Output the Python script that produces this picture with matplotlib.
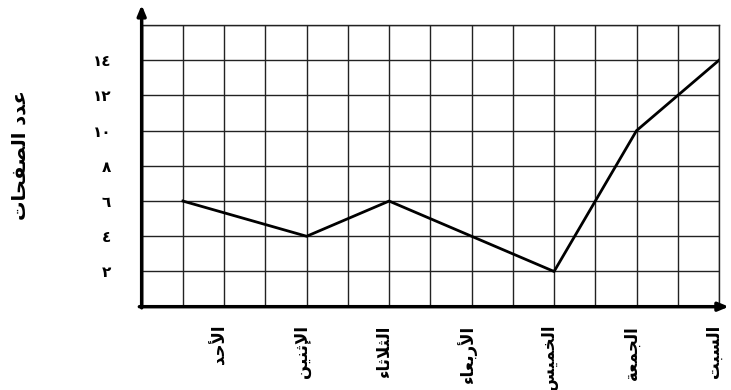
#!/usr/bin/env python3
"""Line chart: pages read per day of the week (Arabic labels)."""

import matplotlib

matplotlib.use("Agg")
import matplotlib.pyplot as plt
from matplotlib.transforms import ScaledTranslation

# data
days = ["الأحد", "الإثنين", "الثلاثاء", "الأربعاء", "الخميس", "الجمعة", "السبت"]
day_x = [1, 4, 6, 8, 10, 12, 14]          # where each day's point sits on the grid
pages = [6, 4, 6, 4, 2, 10, 14]
label_x = [2, 4, 6, 8, 10, 12, 14]        # where the day names are written
y_ticks = [2, 4, 6, 8, 10, 12, 14]
y_title = "عدد الصفحات"

# --- minimal Arabic shaping (matplotlib has no bidi / joining support) ---
_BASE = {
    "ء": 0xFE80, "آ": 0xFE81, "أ": 0xFE83, "ؤ": 0xFE85, "إ": 0xFE87, "ئ": 0xFE89,
    "ا": 0xFE8D, "ب": 0xFE8F, "ة": 0xFE93, "ت": 0xFE95, "ث": 0xFE99, "ج": 0xFE9D,
    "ح": 0xFEA1, "خ": 0xFEA5, "د": 0xFEA9, "ذ": 0xFEAB, "ر": 0xFEAD, "ز": 0xFEAF,
    "س": 0xFEB1, "ش": 0xFEB5, "ص": 0xFEB9, "ض": 0xFEBD, "ط": 0xFEC1, "ظ": 0xFEC5,
    "ع": 0xFEC9, "غ": 0xFECD, "ف": 0xFED1, "ق": 0xFED5, "ك": 0xFED9, "ل": 0xFEDD,
    "م": 0xFEE1, "ن": 0xFEE5, "ه": 0xFEE9, "و": 0xFEED, "ى": 0xFEEF, "ي": 0xFEF1,
}
_RIGHT = set("آأؤإاةدذرزوى")
_DUAL = set("ئبتثجحخسشصضطظعغفقكلمنهي")
_LAM_ALEF = {"آ": 0xFEF5, "أ": 0xFEF7, "إ": 0xFEF9, "ا": 0xFEFB}


def shape_ar(text: str) -> str:
    units = []  # (base codepoint or char, joining type)
    i = 0
    while i < len(text):
        c = text[i]
        if c == "ل" and i + 1 < len(text) and text[i + 1] in _LAM_ALEF:
            units.append((_LAM_ALEF[text[i + 1]], "R"))
            i += 2
            continue
        if c in _DUAL:
            units.append((_BASE[c], "D"))
        elif c in _RIGHT:
            units.append((_BASE[c], "R"))
        elif c in _BASE:
            units.append((_BASE[c], "U"))
        else:
            units.append((c, "U"))
        i += 1

    out = []
    for k, (base, jt) in enumerate(units):
        if isinstance(base, str):
            out.append(base)
            continue
        prev = k > 0 and units[k - 1][1] == "D" and jt in "DR"
        nxt = jt == "D" and k + 1 < len(units) and units[k + 1][1] in "DR"
        out.append(chr(base + (1 if prev else 0) + (2 if nxt else 0)))
    return "".join(reversed(out))


def ar_digits(n: int) -> str:
    return "".join(chr(0x0660 + int(d)) for d in str(n))


fig = plt.figure(figsize=(7.31, 3.90), dpi=100)
ax = fig.add_axes([0.1938, 0.2136, 0.7898, 0.7223])

ax.plot(day_x, pages, color="black", lw=2, solid_joinstyle="miter", zorder=3)

ax.set_xlim(0, 14)
ax.set_ylim(0, 16)

# grid: one cell per x unit, one row per 2 pages
ax.set_xticks(range(0, 15), minor=True)
ax.set_yticks(range(0, 17, 2), minor=True)
ax.grid(True, which="both", color="#222222", lw=1)
ax.tick_params(which="minor", length=0)

ax.set_xticks(label_x)
ax.set_xticklabels([shape_ar(d) for d in days], rotation=90,
                   fontsize=12, fontweight="bold")
ax.set_yticks(y_ticks)
ax.set_yticklabels([ar_digits(v) for v in y_ticks], fontsize=11, fontweight="bold")
ax.tick_params(which="major", length=0)
ax.tick_params(axis="x", pad=13)
ax.tick_params(axis="y", pad=22)

shift = ScaledTranslation(-5 / 100, 0, fig.dpi_scale_trans)
for lbl in ax.get_xticklabels():
    lbl.set_transform(lbl.get_transform() + shift)

for side in ("top", "right"):
    ax.spines[side].set_color("#222222")
    ax.spines[side].set_linewidth(1)
ax.spines["left"].set_visible(False)
ax.spines["bottom"].set_visible(False)

# axis arrows
arrow = dict(arrowstyle="-|>,head_length=0.6,head_width=0.25", lw=2.5,
             color="black", shrinkA=0, shrinkB=0)
ax.annotate("", xy=(0, 1.071), xytext=(0, -0.004), xycoords="axes fraction",
            arrowprops=arrow, annotation_clip=False)
ax.annotate("", xy=(1.017, 0), xytext=(-0.004, 0), xycoords="axes fraction",
            arrowprops=arrow, annotation_clip=False)

fig.text(20 / 731, 1 - 155 / 390, shape_ar(y_title), rotation=90,
         ha="center", va="center", fontsize=14, fontweight="bold")

fig.savefig("out.png", dpi=100)
